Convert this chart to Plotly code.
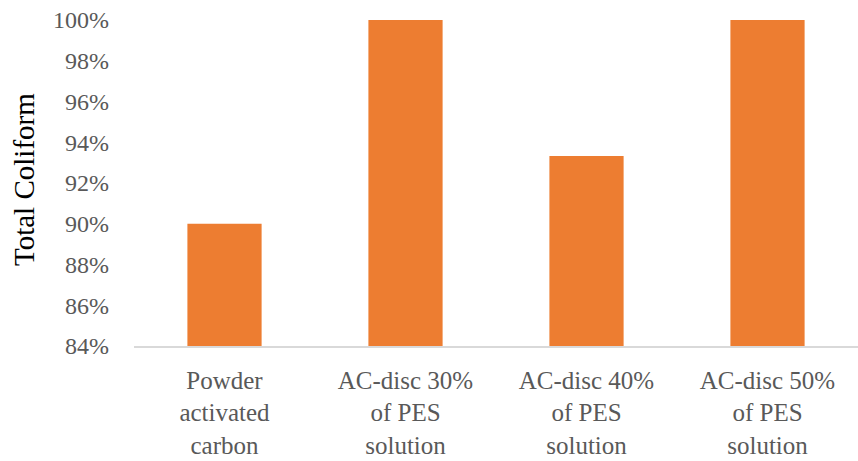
import plotly.graph_objects as go

# Removal efficiency of total coliform for each adsorbent
categories = [
    "Powder<br>activated<br>carbon",
    "AC-disc 30%<br>of PES<br>solution",
    "AC-disc 40%<br>of PES<br>solution",
    "AC-disc 50%<br>of PES<br>solution",
]
removal = [0.90, 1.00, 0.9333, 1.00]
y_ticks = [0.84, 0.86, 0.88, 0.90, 0.92, 0.94, 0.96, 0.98, 1.00]
y_tick_text = ["84%", "86%", "88%", "90%", "92%", "94%", "96%", "98%", "100%"]

W, H = 858, 461
ML, MR, MT, MB = 134, 0, 20, 115
SERIF = "Liberation Serif"

fig = go.Figure(
    go.Bar(
        x=categories,
        y=removal,
        base=0,
        marker=dict(color="#ED7D31", line=dict(width=0)),
    )
)

fig.update_layout(
    width=W,
    height=H,
    margin=dict(l=ML, r=MR, t=MT, b=MB),
    plot_bgcolor="white",
    paper_bgcolor="white",
    bargap=0.59,
    showlegend=False,
    font=dict(family=SERIF, color="#595959"),
)

fig.update_xaxes(
    showline=True,
    linecolor="#D9D9D9",
    linewidth=1.5,
    showgrid=False,
    ticks="",
    tickfont=dict(family=SERIF, size=25, color="#595959"),
    ticklabelstandoff=11,
)

fig.update_yaxes(
    range=[0.84, 1.0],
    tickvals=y_ticks,
    ticktext=y_tick_text,
    showgrid=False,
    zeroline=False,
    showline=False,
    ticks="",
    tickfont=dict(family=SERIF, size=24, color="#595959"),
    ticklabelstandoff=24,
)

fig.add_annotation(
    text="Total Coliform",
    textangle=-90,
    xref="paper",
    yref="paper",
    x=(24 - ML) / (W - ML - MR),
    y=(H - MB - 180) / (H - MT - MB),
    xanchor="center",
    yanchor="middle",
    showarrow=False,
    font=dict(size=29, color="#000000", family=SERIF),
)

fig.write_html("out.html")
